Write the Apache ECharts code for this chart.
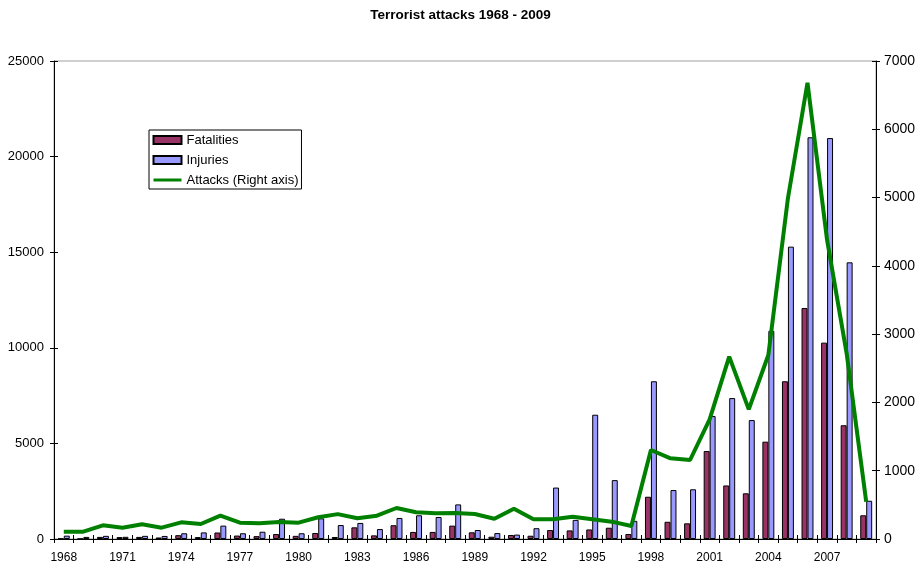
<!DOCTYPE html>
<html>
<head>
<meta charset="utf-8">
<title>Terrorist attacks 1968 - 2009</title>
<script src="https://cdn.jsdelivr.net/npm/echarts@6/dist/echarts.min.js"></script>
<style>
  html, body { margin: 0; padding: 0; background: #fff; }
  #chart { width: 921px; height: 568px; }
</style>
</head>
<body>
<div id="chart"></div>
<script>
// Years on the category axis
var years = [];
for (var y = 1968; y <= 2009; y++) { years.push(String(y)); }

// Fatalities per year (left axis)
var fatalities = [
  20, 10, 110, 100, 110, 80, 200, 100, 340, 180,
  150, 260, 165, 315, 105, 610, 190, 720, 370, 370,
  700, 350, 120, 210, 170, 470, 450, 500, 590, 260,
  2210, 900, 820, 4600, 2800, 2390, 5090, 8250, 12080, 10270,
  5950, 1240
];

// Injuries per year (left axis)
var injuries = [
  175, 110, 165, 115, 165, 160, 300, 345, 700, 300,
  380, 1060, 300, 1080, 730, 840, 520, 1100, 1240, 1150,
  1810, 470, 310, 230, 565, 2690, 1000, 6500, 3080, 950,
  8250, 2560, 2600, 6430, 7370, 6220, 10890, 15290, 21010, 20970,
  14470, 2000
];

// Number of attacks per year (right axis)
var attacks = [
  107, 107, 200, 166, 215, 166, 244, 220, 341, 239,
  230, 249, 239, 318, 364, 303, 341, 454, 391, 376,
  381, 366, 297, 444, 288, 288, 327, 288, 254, 190,
  1303, 1181, 1157, 1753, 2670, 1899, 2694, 4990, 6682, 4380,
  2719, 546
];

var FONT = '"Liberation Sans", Arial, sans-serif';
var plain = function (v) { return String(v); };

var chart = echarts.init(document.getElementById('chart'), null, { renderer: 'canvas' });

chart.setOption({
  animation: false,
  backgroundColor: '#fff',
  title: {
    text: 'Terrorist attacks 1968 - 2009',
    left: 'center',
    top: 3,
    textStyle: { fontFamily: FONT, fontSize: 13.5, fontWeight: 'bold', color: '#000' }
  },
  legend: {
    orient: 'vertical',
    left: 149,
    top: 130,
    padding: [3, 3, 2, 3],
    itemGap: 6,
    itemWidth: 28,
    itemHeight: 8,
    borderColor: '#000',
    borderWidth: 1,
    backgroundColor: '#fff',
    textStyle: { fontFamily: FONT, fontSize: 13, color: '#000', lineHeight: 14 },
    data: [
      { name: 'Fatalities', icon: 'rect' },
      { name: 'Injuries', icon: 'rect' },
      {
        name: 'Attacks (Right axis)',
        itemStyle: { opacity: 0 },
        lineStyle: { color: '#008000', width: 3 }
      }
    ]
  },
  grid: {
    left: 54, right: 45, top: 61, bottom: 29,
    show: true, borderColor: '#a0a0a0', borderWidth: 1, backgroundColor: 'transparent'
  },
  xAxis: [
    {
      type: 'category',
      data: years,
      position: 'bottom',
      boundaryGap: true,
      axisLine: { onZero: false, lineStyle: { color: '#000', width: 1 } },
      axisTick: { show: true, inside: false, length: 4, interval: 0, lineStyle: { color: '#000' } },
      axisLabel: { interval: 2, margin: 13, color: '#000', fontFamily: FONT, fontSize: 12 },
      splitLine: { show: false }
    },
    {
      type: 'category',
      data: years,
      position: 'bottom',
      boundaryGap: true,
      axisLine: { show: false, onZero: false },
      axisTick: { show: true, inside: true, length: 4, interval: 0, lineStyle: { color: '#000' } },
      axisLabel: { show: false },
      splitLine: { show: false }
    }
  ],
  yAxis: [
    {
      type: 'value',
      position: 'left',
      min: 0, max: 25000, interval: 5000,
      axisLine: { show: true, lineStyle: { color: '#000' } },
      axisTick: { show: true, inside: false, length: 4, lineStyle: { color: '#000' } },
      axisLabel: { margin: 10, formatter: plain, color: '#000', fontFamily: FONT, fontSize: 13 },
      splitLine: { show: false }
    },
    {
      type: 'value',
      position: 'right',
      min: 0, max: 7000, interval: 1000,
      axisLine: { show: true, lineStyle: { color: '#000' } },
      axisTick: { show: true, inside: false, length: 4, lineStyle: { color: '#000' } },
      axisLabel: { margin: 8, formatter: plain, color: '#000', fontFamily: FONT, fontSize: 14 },
      splitLine: { show: false }
    },
    {
      type: 'value',
      position: 'left',
      min: 0, max: 25000, interval: 5000,
      axisLine: { show: false },
      axisTick: { show: true, inside: true, length: 4, lineStyle: { color: '#000' } },
      axisLabel: { show: false },
      splitLine: { show: false }
    },
    {
      type: 'value',
      position: 'right',
      min: 0, max: 7000, interval: 1000,
      axisLine: { show: false },
      axisTick: { show: true, inside: true, length: 4, lineStyle: { color: '#000' } },
      axisLabel: { show: false },
      splitLine: { show: false }
    }
  ],
  series: [
    {
      name: 'Fatalities',
      type: 'bar',
      xAxisIndex: 0,
      yAxisIndex: 0,
      data: fatalities,
      barGap: '0%',
      barCategoryGap: '39%',
      itemStyle: { color: '#993366', borderColor: '#000', borderWidth: 1 }
    },
    {
      name: 'Injuries',
      type: 'bar',
      xAxisIndex: 0,
      yAxisIndex: 0,
      data: injuries,
      barGap: '0%',
      barCategoryGap: '39%',
      itemStyle: { color: '#9999ff', borderColor: '#000', borderWidth: 1 }
    },
    {
      name: 'Attacks (Right axis)',
      type: 'line',
      xAxisIndex: 0,
      yAxisIndex: 1,
      data: attacks,
      symbol: 'none',
      smooth: false,
      z: 5,
      lineStyle: { color: '#008000', width: 4 },
      itemStyle: { color: '#008000' }
    }
  ]
});
</script>
</body>
</html>
